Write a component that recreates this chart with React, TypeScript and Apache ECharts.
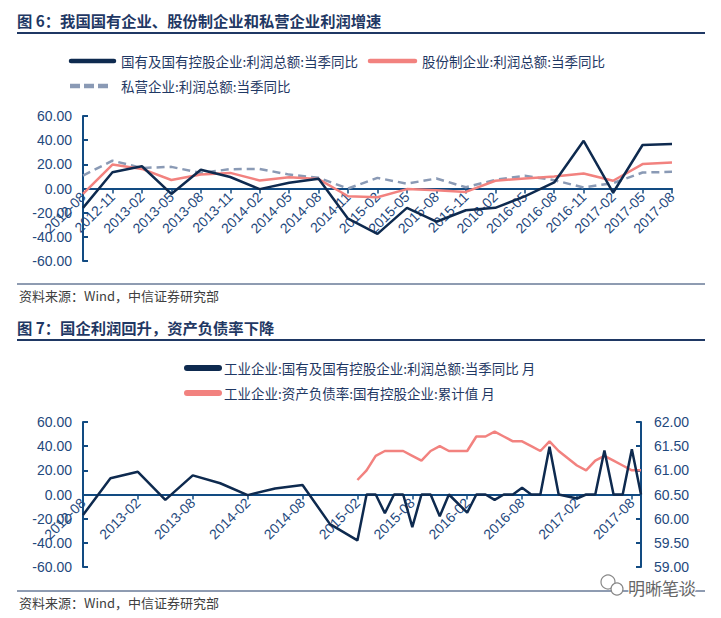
import React, { useEffect, useRef } from "react";
import * as echarts from "echarts";

// ---- Chart 1 data (quarterly, 当季同比 %) ----
const quarters = [
  "2012-08", "2012-11", "2013-02", "2013-05", "2013-08", "2013-11", "2014-02",
  "2014-05", "2014-08", "2014-11", "2015-02", "2015-05", "2015-08", "2015-11",
  "2016-02", "2016-05", "2016-08", "2016-11", "2017-02", "2017-05", "2017-08",
];
const soeQuarterly = [-16, 13.5, 18.4, -4.5, 15.5, 9.5, -0.5, 4.8, 8, -25, -37.5, -16, -27.5, -18, -16, -6.5, 5, 39.5, -3.5, 36, 36.8];
const jointStockQuarterly = [-4.5, 19.8, 16.2, 7, 11.5, 12.9, 6.6, 9.3, 7.8, -6.4, -7.2, -0.5, -1.4, -2.8, 6.4, 8.3, 9.9, 12.4, 6.4, 20.2, 21.5];
const privateQuarterly = [10.7, 23, 17, 17.9, 12.9, 16, 16.2, 11.5, 8.8, 0, 8.8, 4, 8.3, 1, 7.2, 10.5, 6.9, 0.8, 4.5, 13.2, 13.8];

// ---- Chart 2 data (monthly 2012-08 .. 2017-09) ----
const monthStart = { year: 2012, month: 8 };
const monthCount = 62;
const months: string[] = [];
for (let i = 0; i < monthCount; i++) {
  const m = monthStart.month - 1 + i;
  const y = monthStart.year + Math.floor(m / 12);
  const mm = (m % 12) + 1;
  months.push(`${y}-${mm < 10 ? "0" + mm : mm}`);
}
const soeMonthly = [
  -17, null, null, 13.5, null, null, 18.8, null, null, -4.5, null, null,
  15.8, null, null, 9.3, null, null, -0.5, null, null, 5, null, null,
  7.8, null, null, -24.5, null, null, -38, 0, 0, -15.5, 0, 0,
  -27, 0, 0, -18, 0, null, -15, 0, 0, -4.5, 0, 0,
  5.5, 0, 0, 39.5, 0, null, -3.3, 0, 0, 36.5, 0, 0,
  37.5, 0,
];
const debtRatioMonthly = [
  null, null, null, null, null, null, null, null, null, null, null, null,
  null, null, null, null, null, null, null, null, null, null, null, null,
  null, null, null, null, null, null, 60.8, 61.0, 61.3, 61.4, 61.4, 61.4,
  61.3, 61.2, 61.4, 61.5, 61.4, null, 61.4, 61.7, 61.7, 61.8, 61.7, 61.6,
  61.6, 61.5, 61.4, 61.6, 61.4, null, 61.1, 61.0, 61.2, 61.3, 61.2, 61.1,
  61.0, 61.0,
];

const names1 = ["国有及国有控股企业:利润总额:当季同比", "股份制企业:利润总额:当季同比", "私营企业:利润总额:当季同比"];
const names2 = ["工业企业:国有及国有控股企业:利润总额:当季同比 月", "工业企业:资产负债率:国有控股企业:累计值 月"];

const C_DARK = "#0E2A4F";
const C_PINK = "#F2827F";
const C_GRAY = "#8A9AB5";
const C_AXIS = "#124B82";
const C_LABEL = "#1F497D";
const C_TITLE = "#1F3864";
const CJK = '"Noto Sans CJK SC", "Noto Sans", sans-serif';
const LAT = '"Liberation Sans", Arial, sans-serif';

function txt(x: number, y: number, text: string, size: number, color: string, weight = "normal", family = CJK) {
  return {
    type: "text",
    x,
    y,
    style: {
      text,
      fontSize: size,
      fontFamily: family,
      fontWeight: weight,
      fill: color,
      align: "left",
      verticalAlign: "middle",
      textAlign: "left",
      textVerticalAlign: "middle",
    },
  };
}
function ln(x1: number, y1: number, x2: number, y2: number, color: string, w: number, extra: any = {}) {
  return { type: "line", shape: { x1, y1, x2, y2 }, style: { stroke: color, lineWidth: w, ...extra } };
}

export default function App() {
  const ref = useRef<HTMLDivElement>(null);
  useEffect(() => {
    if (!ref.current) return;
    const chart = echarts.init(ref.current, undefined, { renderer: "svg" });

    const valueAxisBase = (min: number, max: number, interval: number, gridIndex: number, position: string, margin: number) => ({
      type: "value",
      gridIndex,
      position,
      min,
      max,
      interval,
      axisLine: { show: true, onZero: false, lineStyle: { color: C_AXIS, width: 2 } },
      axisTick: { show: true, inside: true, length: 5, lineStyle: { color: C_AXIS, width: 2 } },
      splitLine: { show: false },
      axisLabel: {
        color: C_LABEL,
        fontSize: 14,
        fontFamily: LAT,
        margin,
        formatter: (v: number) => v.toFixed(2),
      },
    });

    // main category axis: only the line (sits on zero)
    const catAxisLine = (data: string[], gridIndex: number) => ({
      type: "category",
      gridIndex,
      data,
      boundaryGap: false,
      axisLine: { show: true, onZero: true, lineStyle: { color: C_AXIS, width: 2 } },
      axisTick: { show: false },
      axisLabel: { show: false },
      splitLine: { show: false },
    });
    // label category axis: lives in a helper grid whose bottom edge is the zero line
    const catAxisLabels = (data: string[], gridIndex: number, interval: number) => ({
      type: "category",
      gridIndex,
      data,
      boundaryGap: false,
      axisLine: { show: false, onZero: false },
      axisTick: { show: true, length: 5, interval, lineStyle: { color: C_AXIS, width: 1.5 } },
      axisLabel: {
        color: C_LABEL,
        fontSize: 14,
        fontFamily: LAT,
        rotate: 45,
        margin: 6,
        interval,
      },
      splitLine: { show: false },
    });
    const hiddenY = (gridIndex: number) => ({
      type: "value", gridIndex, min: 0, max: 1, show: false,
      axisLine: { show: false }, axisTick: { show: false }, axisLabel: { show: false }, splitLine: { show: false },
    });

    const graphics: any[] = [
      // Chart 1 header
      txt(17, 20, "图 6：我国国有企业、股份制企业和私营企业利润增速", 15.3, C_TITLE, "bold"),
      { type: "rect", shape: { x: 17, y: 32, width: 688, height: 2 }, style: { fill: C_TITLE } },
      // legend 1
      ln(71, 61, 114, 61, C_DARK, 4.5, { lineCap: "round" }),
      txt(121, 61, names1[0], 13.5, C_TITLE),
      ln(370, 61, 415, 61, C_PINK, 4.5, { lineCap: "round" }),
      txt(422, 61, names1[1], 13.5, C_TITLE),
      ln(70, 86, 110, 86, C_GRAY, 4.5, { lineDash: [10, 4] }),
      txt(121, 86, names1[2], 13.5, C_TITLE),
      // footer 1
      ln(17, 284, 705, 284, C_TITLE, 1),
      txt(19, 295, "资料来源：Wind，中信证券研究部", 13, "#404040"),
      // Chart 2 header
      txt(17, 327, "图 7：国企利润回升，资产负债率下降", 15.3, C_TITLE, "bold"),
      { type: "rect", shape: { x: 17, y: 339, width: 688, height: 2 }, style: { fill: C_TITLE } },
      ln(187, 368, 219, 368, C_DARK, 6, { lineCap: "round" }),
      txt(224, 368, names2[0], 13.5, C_TITLE),
      ln(187, 393, 219, 393, C_PINK, 6, { lineCap: "round" }),
      txt(224, 393, names2[1], 13.5, C_TITLE),
      ln(17, 591, 705, 591, C_TITLE, 1),
      txt(19, 602, "资料来源：Wind，中信证券研究部", 13, "#404040"),
      // watermark
      { type: "circle", shape: { cx: 608, cy: 582, r: 7 }, style: { fill: "none", stroke: "#888", lineWidth: 1.2 } },
      { type: "circle", shape: { cx: 617, cy: 589, r: 6 }, style: { fill: "#fff", stroke: "#888", lineWidth: 1.2 } },
      {
        type: "text",
        x: 628,
        y: 587,
        style: {
          text: "明晰笔谈",
          fontSize: 17,
          fontFamily: CJK,
          fill: "#666",
          stroke: "#fff",
          lineWidth: 2,
          align: "left",
          verticalAlign: "middle",
          textAlign: "left",
          textVerticalAlign: "middle",
        },
      },
    ];

    chart.setOption({
      animation: false,
      backgroundColor: "#ffffff",
      grid: [
        { left: 83, right: 49, top: 116, height: 145 },
        { left: 83, right: 80, top: 422, height: 145 },
        { left: 83, right: 49, top: 116, height: 72.5 },
        { left: 83, right: 80, top: 422, height: 72.5 },
      ],
      xAxis: [
        catAxisLine(quarters, 0),
        catAxisLine(months, 1),
        catAxisLabels(quarters, 2, 0),
        catAxisLabels(months, 3, 5),
      ],
      yAxis: [
        valueAxisBase(-60, 60, 20, 0, "left", 11),
        valueAxisBase(-60, 60, 20, 1, "left", 11),
        valueAxisBase(59, 62, 0.5, 1, "right", 13),
        hiddenY(2),
        hiddenY(3),
      ],
      series: [
        {
          name: names1[2], type: "line", xAxisIndex: 0, yAxisIndex: 0, data: privateQuarterly,
          symbol: "none", lineStyle: { color: C_GRAY, width: 2.5, type: [8, 5] }, itemStyle: { color: C_GRAY },
        },
        {
          name: names1[1], type: "line", xAxisIndex: 0, yAxisIndex: 0, data: jointStockQuarterly,
          symbol: "none", lineStyle: { color: C_PINK, width: 2.5 }, itemStyle: { color: C_PINK },
        },
        {
          name: names1[0], type: "line", xAxisIndex: 0, yAxisIndex: 0, data: soeQuarterly,
          symbol: "none", lineStyle: { color: C_DARK, width: 2.5 }, itemStyle: { color: C_DARK },
        },
        {
          name: names2[1], type: "line", xAxisIndex: 1, yAxisIndex: 2, data: debtRatioMonthly, connectNulls: true,
          symbol: "none", lineStyle: { color: C_PINK, width: 2.5 }, itemStyle: { color: C_PINK },
        },
        {
          name: names2[0], type: "line", xAxisIndex: 1, yAxisIndex: 1, data: soeMonthly, connectNulls: true,
          symbol: "none", lineStyle: { color: C_DARK, width: 2.5 }, itemStyle: { color: C_DARK },
        },
      ],
      graphic: graphics,
    });
    return () => chart.dispose();
  }, []);
  return <div ref={ref} style={{ position: "absolute", left: 0, top: 0, width: 721, height: 618 }} />;
}
